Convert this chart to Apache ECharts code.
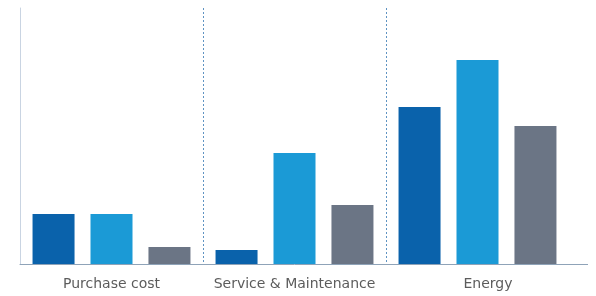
<!DOCTYPE html>
<html>
<head>
<meta charset="utf-8">
<script src="https://cdn.jsdelivr.net/npm/echarts@6/dist/echarts.min.js"></script>
<style>
  html, body { margin: 0; padding: 0; background: #fff; }
  #chart { width: 596px; height: 296px; }
</style>
</head>
<body>
<div id="chart"></div>
<script>
var categories = ['Purchase cost', 'Service & Maintenance', 'Energy']
// relative cost
var seriesA = [50, 14, 157]
var seriesB = [50, 111, 204]
var seriesC = [17, 59, 138]

var colors = ['#0a62ab', '#1b9ad6', '#6b7585']

// the last label sits a bit right of its group in the original
var xData = categories.map(function (c, i) {
  return i === 2 ? { value: c, textStyle: { padding: [0, 0, 0, 21] } } : c
})

var chart = echarts.init(document.getElementById('chart'))
chart.setOption({
  animation: false,
  color: colors,
  grid: { left: 20, right: 27, top: 8, bottom: 32 },
  xAxis: {
    type: 'category',
    data: xData,
    axisLine: { lineStyle: { color: '#8fa3b8', width: 1 } },
    axisTick: { show: false },
    axisLabel: {
      interval: 0,
      hideOverlap: false,
      color: '#5c5c5c',
      fontFamily: 'DejaVu Sans',
      fontSize: 14,
      margin: 13
    },
    splitLine: {
      show: true,
      interval: 0,
      showMinLine: false,
      showMaxLine: false,
      lineStyle: { color: '#5f93c2', type: [2, 2], width: 1 }
    }
  },
  yAxis: {
    type: 'value',
    min: 0,
    max: 256,
    axisLine: { show: true, lineStyle: { color: '#c9d4e2' } },
    axisLabel: { show: false },
    axisTick: { show: false },
    splitLine: { show: false }
  },
  graphic: [{
    type: 'line',
    shape: { x1: 569, y1: 264.5, x2: 588, y2: 264.5 },
    style: { stroke: '#8fa3b8', lineWidth: 1 }
  }],
  series: [
    { type: 'bar', data: seriesA, barWidth: 42, barGap: '38%' },
    { type: 'bar', data: seriesB, barWidth: 42, barGap: '38%' },
    { type: 'bar', data: seriesC, barWidth: 42, barGap: '38%' }
  ]
})
</script>
</body>
</html>
